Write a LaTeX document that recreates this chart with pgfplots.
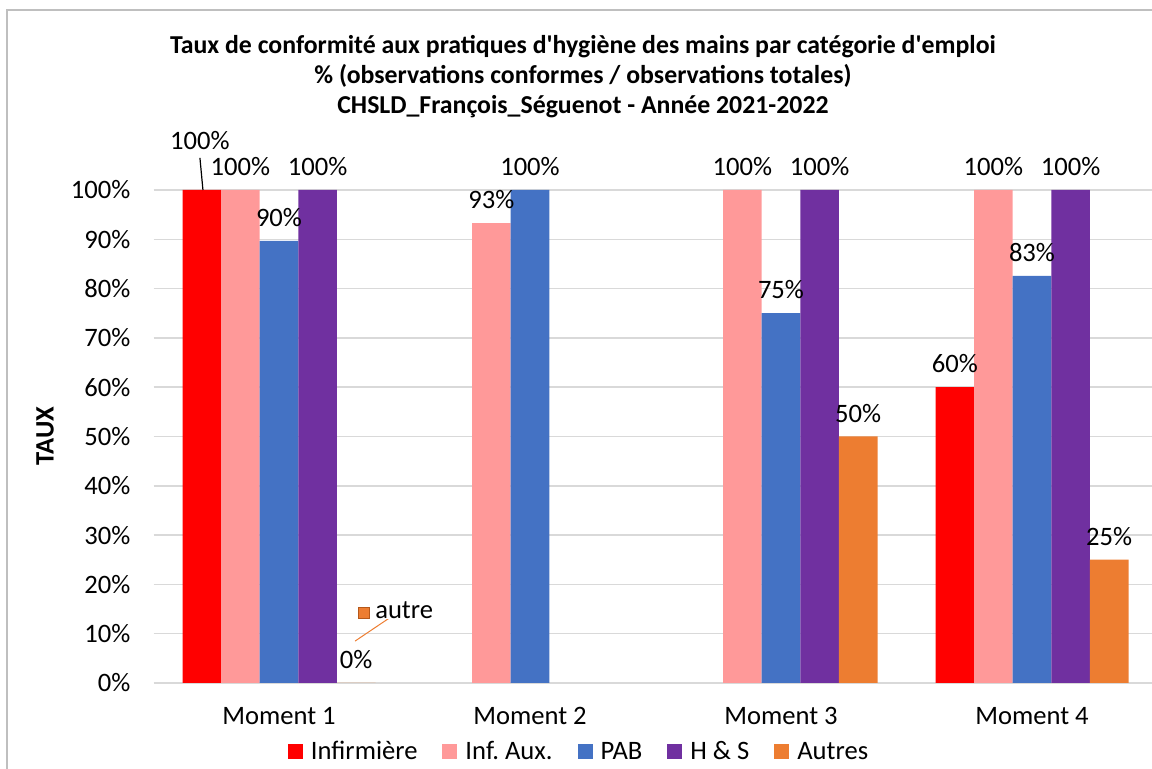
\documentclass[border=0pt]{standalone}
\usepackage{fontspec}
\setmainfont{Carlito}
\usepackage{pgfplots}
\pgfplotsset{compat=1.18}

\definecolor{infirm}{HTML}{FF0000}
\definecolor{infaux}{HTML}{FF9999}
\definecolor{pab}{HTML}{4472C4}
\definecolor{hs}{HTML}{7030A0}
\definecolor{autres}{HTML}{ED7D31}
\definecolor{autresdark}{HTML}{B5581A}
\definecolor{gridgray}{HTML}{D9D9D9}
\definecolor{bordergray}{HTML}{BFBFBF}

\newcommand\labfont{\fontsize{13.3}{15}\selectfont}

\pgfplotsset{sq/.style={legend image code/.code={\fill[##1] (0pt,-3.7pt) rectangle (7.5pt,3.8pt);}}}

\begin{document}
\frenchspacing
\begin{tikzpicture}
\useasboundingbox (0,0) rectangle (576pt,-384.5pt);
\draw[bordergray, line width=0.7pt] (3.5pt,-5pt) rectangle (620pt,-420pt);

% title and y label
\node[font=\bfseries\fontsize{12.9}{15}\selectfont, align=center] at (291.5pt,-38.5pt)
  {Taux de conformité aux pratiques d\textquotesingle hygiène des mains par catégorie d\textquotesingle emploi\\
   \% (observations conformes / observations totales)\\
   CHSLD\_François\_Séguenot - Année 2021-2022};
\node[rotate=90, font=\bfseries\labfont] at (22.5pt,-218pt) {TAUX};

\begin{axis}[
  at={(76.75pt,-341.5pt)}, anchor=south west,
  scale only axis, width=502pt, height=246.5pt,
  xmin=-0.5, xmax=3.5, ymin=0, ymax=100,
  ybar=0pt, bar width=19.3pt,
  clip=false,
  axis line style={draw=none},
  major tick length=0pt,
  ymajorgrids, grid style={gridgray, line width=0.75pt},
  ytick={0,10,...,100},
  yticklabel={\pgfmathprintnumber{\tick}\%},
  xtick={0,1,2,3},
  xticklabels={Moment 1,Moment 2,Moment 3,Moment 4},
  ticklabel style={font=\labfont},
  yticklabel style={xshift=-8pt},
  xticklabel style={yshift=-8.7pt},
  /pgf/number format/assume math mode=true,
  nodes near coords={\pgfmathprintnumber[fixed,precision=0]{\pgfplotspointmeta}\%},
  nodes near coords style={font=\labfont, yshift=3.6pt},
  legend style={at={(axis description cs:0.4248,-0.14)}, anchor=center,
    draw=none, fill=none, font=\labfont, legend columns=-1,
    /tikz/every odd column/.append style={column sep=2pt},
    /tikz/every even column/.append style={column sep=10.5pt}},
]
\addplot[fill=infirm, draw=none, sq, point meta=explicit symbolic,
  nodes near coords={\pgfplotspointmeta}]
  coordinates {(0,100) [\relax] (3,60) [60\%]};
\addlegendentry{Infirmière}
\addplot[fill=infaux, draw=none, sq]
  coordinates {(0,100) (1,93.3) (2,100) (3,100)};
\addlegendentry{Inf. Aux.}
\addplot[fill=pab, draw=none, sq]
  coordinates {(0,89.7) (1,100) (2,75) (3,82.6)};
\addlegendentry{PAB}
\addplot[fill=hs, draw=none, sq]
  coordinates {(0,100) (2,100) (3,100)};
\addlegendentry{H \& S}
\addplot[fill=autres, draw=none, sq]
  coordinates {(0,0) (2,50) (3,25)};
\addlegendentry{Autres}

% moved label of Infirmière, Moment 1
\node[font=\labfont] at (axis cs:-0.315,110.1) {100\%};
\draw[black, line width=0.6pt] (axis cs:-0.303,100) -- (axis cs:-0.315,106.5);

% stray "autre" label, Moment 1
\draw[autres, line width=0.5pt] (axis cs:0.303,8.5) -- (axis cs:0.446,13.4);
\node[fill=autres, draw=autresdark, line width=0.8pt, minimum size=5.5pt, inner sep=0pt]
  at (axis cs:0.339,14.2) {};
\node[font=\labfont, anchor=west, inner sep=0pt, fill=white] at (axis cs:0.382,14.8) {autre};
\end{axis}
\end{tikzpicture}
\end{document}
